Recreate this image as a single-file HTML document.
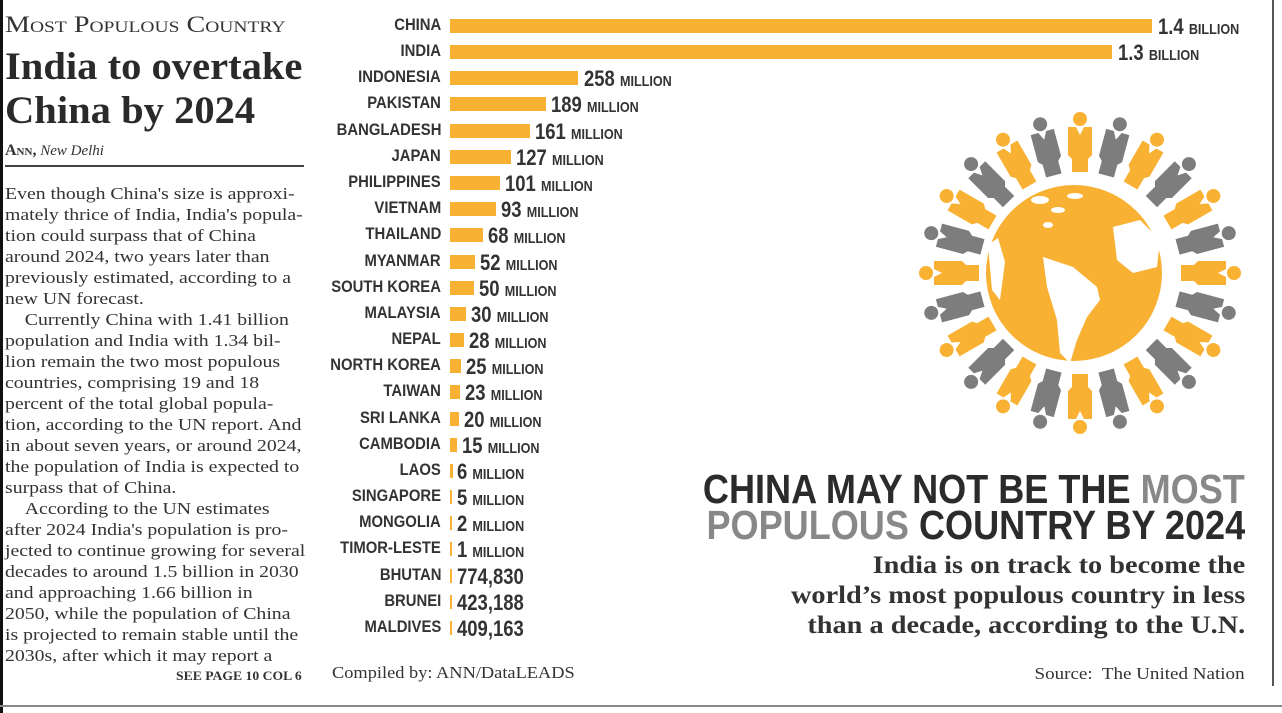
<!DOCTYPE html>
<html><head><meta charset="utf-8"><style>
*{margin:0;padding:0;box-sizing:border-box}
body{width:1282px;height:713px;background:#fff;position:relative;overflow:hidden;font-family:"Liberation Serif",serif;color:#2a2a2a}
.a{position:absolute;white-space:nowrap}
.bt{font-size:17.2px;line-height:21px;left:5px;color:#333;transform:scaleX(1.15);transform-origin:left top}
.row{position:absolute;left:0;height:20px;width:1282px}
.lb{position:absolute;right:841px;top:0px;font-family:"Liberation Sans",sans-serif;font-weight:bold;font-size:16.5px;color:#333;white-space:nowrap;transform:scaleX(0.9);transform-origin:right center}
.bar{position:absolute;left:450px;top:3px;height:14px;background:#f8b133}
.v{position:absolute;top:-2px;font-family:"Liberation Sans",sans-serif;font-weight:bold;font-size:22px;color:#333;white-space:nowrap;transform:scaleX(0.84);transform-origin:left center}
.v small{font-size:15px}
.hd{font-family:"Liberation Sans",sans-serif;font-weight:bold;font-size:41px;color:#2b2b2b;right:37px;line-height:36px;transform:scaleX(0.88);transform-origin:right top}
.sub{font-weight:bold;font-size:25.5px;right:37px;text-align:right;line-height:30px;color:#333;transform:scaleX(1.11);transform-origin:right top}
</style></head><body>
<div class="a" style="left:0;top:0;width:3px;height:713px;background:#111"></div>
<div class="a" style="left:1272px;top:0;width:1.5px;height:686px;background:#555"></div>
<div class="a" style="left:0;top:705px;width:1282px;height:2px;background:#888"></div>

<div class="a" style="left:5px;top:12px;font-size:23px;font-variant:small-caps;color:#333;transform:scaleX(1.22);transform-origin:left top">Most Populous Country</div>
<div class="a" style="left:5px;top:45px;font-size:39px;font-weight:bold;line-height:44px;color:#2a2a2a;transform:scaleX(1.04);transform-origin:left top">India to overtake<br>China by 2024</div>
<div class="a" style="left:5px;top:142px;font-size:15px;color:#333"><b style="font-variant:small-caps;font-size:16px">Ann,</b> <i>New Delhi</i></div>
<div class="a" style="left:5px;top:165px;width:299px;height:1.5px;background:#444"></div>

<div class="a bt" style="top:183px">Even though China's size is approxi-<br>mately thrice of India, India's popula-<br>tion could surpass that of China<br>around 2024, two years later than<br>previously estimated, according to a<br>new UN forecast.<br>&nbsp;&nbsp;&nbsp;&nbsp;Currently China with 1.41 billion<br>population and India with 1.34 bil-<br>lion remain the two most populous<br>countries, comprising 19 and 18<br>percent of the total global popula-<br>tion, according to the UN report. And<br>in about seven years, or around 2024,<br>the population of India is expected to<br>surpass that of China.<br>&nbsp;&nbsp;&nbsp;&nbsp;According to the UN estimates<br>after 2024 India's population is pro-<br>jected to continue growing for several<br>decades to around 1.5 billion in 2030<br>and approaching 1.66 billion in<br>2050, while the population of China<br>is projected to remain stable until the<br>2030s, after which it may report a</div>
<div class="a" style="left:176px;top:668px;font-size:13px;font-weight:bold;color:#333;transform:scaleX(1.05);transform-origin:left top">SEE PAGE 10 COL 6</div>

<div class="row" style="top:16px"><div class="lb">CHINA</div><div class="bar" style="width:702px"></div><div class="v" style="left:1158px">1.4 <small>BILLION</small></div></div>
<div class="row" style="top:42px"><div class="lb">INDIA</div><div class="bar" style="width:662px"></div><div class="v" style="left:1118px">1.3 <small>BILLION</small></div></div>
<div class="row" style="top:68px"><div class="lb">INDONESIA</div><div class="bar" style="width:128px"></div><div class="v" style="left:584px">258 <small>MILLION</small></div></div>
<div class="row" style="top:94px"><div class="lb">PAKISTAN</div><div class="bar" style="width:96px"></div><div class="v" style="left:551px">189 <small>MILLION</small></div></div>
<div class="row" style="top:121px"><div class="lb">BANGLADESH</div><div class="bar" style="width:80px"></div><div class="v" style="left:535px">161 <small>MILLION</small></div></div>
<div class="row" style="top:147px"><div class="lb">JAPAN</div><div class="bar" style="width:61px"></div><div class="v" style="left:516px">127 <small>MILLION</small></div></div>
<div class="row" style="top:173px"><div class="lb">PHILIPPINES</div><div class="bar" style="width:50px"></div><div class="v" style="left:505px">101 <small>MILLION</small></div></div>
<div class="row" style="top:199px"><div class="lb">VIETNAM</div><div class="bar" style="width:46px"></div><div class="v" style="left:501px">93 <small>MILLION</small></div></div>
<div class="row" style="top:225px"><div class="lb">THAILAND</div><div class="bar" style="width:33px"></div><div class="v" style="left:488px">68 <small>MILLION</small></div></div>
<div class="row" style="top:252px"><div class="lb">MYANMAR</div><div class="bar" style="width:25px"></div><div class="v" style="left:480px">52 <small>MILLION</small></div></div>
<div class="row" style="top:278px"><div class="lb">SOUTH KOREA</div><div class="bar" style="width:24px"></div><div class="v" style="left:479px">50 <small>MILLION</small></div></div>
<div class="row" style="top:304px"><div class="lb">MALAYSIA</div><div class="bar" style="width:16px"></div><div class="v" style="left:471px">30 <small>MILLION</small></div></div>
<div class="row" style="top:330px"><div class="lb">NEPAL</div><div class="bar" style="width:14px"></div><div class="v" style="left:469px">28 <small>MILLION</small></div></div>
<div class="row" style="top:356px"><div class="lb">NORTH KOREA</div><div class="bar" style="width:11px"></div><div class="v" style="left:466px">25 <small>MILLION</small></div></div>
<div class="row" style="top:382px"><div class="lb">TAIWAN</div><div class="bar" style="width:10px"></div><div class="v" style="left:465px">23 <small>MILLION</small></div></div>
<div class="row" style="top:409px"><div class="lb">SRI LANKA</div><div class="bar" style="width:9px"></div><div class="v" style="left:464px">20 <small>MILLION</small></div></div>
<div class="row" style="top:435px"><div class="lb">CAMBODIA</div><div class="bar" style="width:7px"></div><div class="v" style="left:462px">15 <small>MILLION</small></div></div>
<div class="row" style="top:461px"><div class="lb">LAOS</div><div class="bar" style="width:3px"></div><div class="v" style="left:457px">6 <small>MILLION</small></div></div>
<div class="row" style="top:487px"><div class="lb">SINGAPORE</div><div class="bar" style="width:2px"></div><div class="v" style="left:457px">5 <small>MILLION</small></div></div>
<div class="row" style="top:513px"><div class="lb">MONGOLIA</div><div class="bar" style="width:2px"></div><div class="v" style="left:457px">2 <small>MILLION</small></div></div>
<div class="row" style="top:539px"><div class="lb">TIMOR-LESTE</div><div class="bar" style="width:2px"></div><div class="v" style="left:457px">1 <small>MILLION</small></div></div>
<div class="row" style="top:566px"><div class="lb">BHUTAN</div><div class="bar" style="width:2px"></div><div class="v" style="left:457px">774,830</div></div>
<div class="row" style="top:592px"><div class="lb">BRUNEI</div><div class="bar" style="width:2px"></div><div class="v" style="left:457px">423,188</div></div>
<div class="row" style="top:618px"><div class="lb">MALDIVES</div><div class="bar" style="width:2px"></div><div class="v" style="left:457px">409,163</div></div>

<div class="a" style="left:332px;top:663px;font-size:17px;color:#333;transform:scaleX(1.08);transform-origin:left top">Compiled by: ANN/DataLEADS</div>

<svg class="a" style="left:0;top:0" width="1282" height="713" viewBox="0 0 1282 713">
<defs><g id="p"><circle cx="0" cy="-154" r="7"/><path d="M-12,-146 L-4,-146 L0,-138 L4,-146 L12,-146 L12,-118 L8,-114 L8,-101 L-8,-101 L-8,-114 L-12,-118 Z"/></g></defs>
<g transform="translate(1080,273)">
<use href="#p" fill="#f8b133" transform="rotate(0)"/><use href="#p" fill="#7d7d7d" transform="rotate(15)"/>
<use href="#p" fill="#f8b133" transform="rotate(30)"/><use href="#p" fill="#7d7d7d" transform="rotate(45)"/>
<use href="#p" fill="#f8b133" transform="rotate(60)"/><use href="#p" fill="#7d7d7d" transform="rotate(75)"/>
<use href="#p" fill="#f8b133" transform="rotate(90)"/><use href="#p" fill="#7d7d7d" transform="rotate(105)"/>
<use href="#p" fill="#f8b133" transform="rotate(120)"/><use href="#p" fill="#7d7d7d" transform="rotate(135)"/>
<use href="#p" fill="#f8b133" transform="rotate(150)"/><use href="#p" fill="#7d7d7d" transform="rotate(165)"/>
<use href="#p" fill="#f8b133" transform="rotate(180)"/><use href="#p" fill="#7d7d7d" transform="rotate(195)"/>
<use href="#p" fill="#f8b133" transform="rotate(210)"/><use href="#p" fill="#7d7d7d" transform="rotate(225)"/>
<use href="#p" fill="#f8b133" transform="rotate(240)"/><use href="#p" fill="#7d7d7d" transform="rotate(255)"/>
<use href="#p" fill="#f8b133" transform="rotate(270)"/><use href="#p" fill="#7d7d7d" transform="rotate(285)"/>
<use href="#p" fill="#f8b133" transform="rotate(300)"/><use href="#p" fill="#7d7d7d" transform="rotate(315)"/>
<use href="#p" fill="#f8b133" transform="rotate(330)"/><use href="#p" fill="#7d7d7d" transform="rotate(345)"/>
</g>
<circle cx="1074" cy="273" r="88" fill="#f8b133"/>
<path d="M1043,257 L1073,267 L1097,287 L1100,300 L1087,317 L1077,340 L1070,363 L1060,353 L1057,320 L1047,287 Z" fill="#fff"/>
<path d="M1113,227 L1140,220 L1160,240 L1157,267 L1133,273 L1117,260 Z" fill="#fff"/>
<path d="M988,245 L998,238 L1005,262 L1000,300 L992,290 Z" fill="#fff"/>
<ellipse cx="1040" cy="200" rx="9" ry="4" fill="#fff"/><ellipse cx="1058" cy="210" rx="7" ry="3" fill="#fff"/><ellipse cx="1075" cy="196" rx="8" ry="3" fill="#fff"/><ellipse cx="1048" cy="225" rx="5" ry="3" fill="#fff"/>
</svg>

<div class="a hd" style="top:471px;text-align:right">CHINA MAY NOT BE THE <span style="color:#888">MOST</span></div>
<div class="a hd" style="top:507px;text-align:right"><span style="color:#888">POPULOUS</span> COUNTRY BY 2024</div>
<div class="a sub" style="top:550px">India is on track to become the<br>world’s most populous country in less<br>than a decade, according to the U.N.</div>
<div class="a" style="right:37px;top:664px;font-size:17px;color:#333;transform:scaleX(1.12);transform-origin:right top">Source:&nbsp; The United Nation</div>
</body></html>
